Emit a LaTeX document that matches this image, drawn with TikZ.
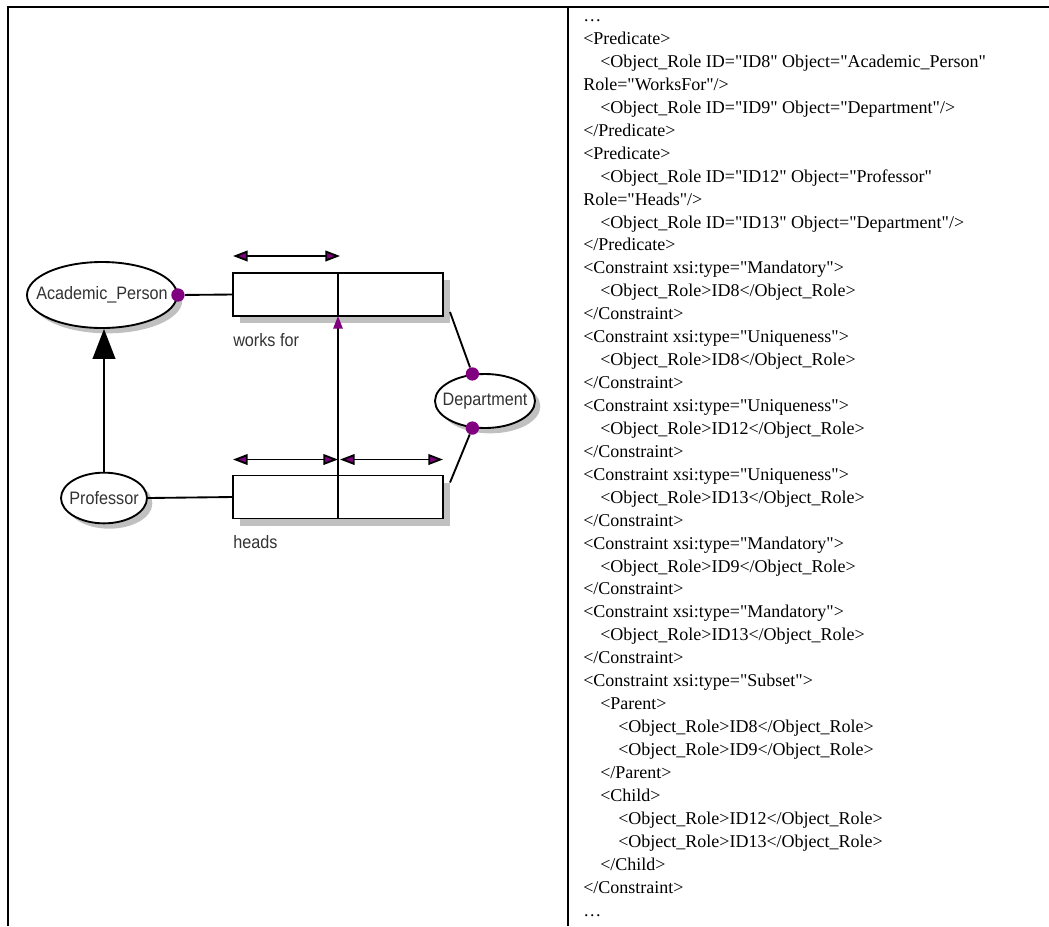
\documentclass[tikz,border=0pt]{standalone}
\usepackage{fontspec}
\setmainfont{Liberation Serif}[Ligatures=TeXOff]
\newfontfamily\ormfont[FakeStretch=0.9]{Liberation Sans}
\usetikzlibrary{arrows.meta,shapes.geometric,shadows,positioning,calc}
\definecolor{ormpurple}{RGB}{128,0,128}
\definecolor{shadowgray}{RGB}{192,192,192}
\tikzset{
  objtype/.style={ellipse,draw,line width=1.4pt,fill=white,inner sep=0pt,
    font=\ormfont\fontsize{13.5pt}{16pt}\selectfont,text=black!80,
    drop shadow={shadow xshift=4pt,shadow yshift=-4pt,fill=shadowgray,opacity=1}},
  rolebox/.style={rectangle,draw,line width=1.4pt,fill=white,inner sep=0pt,outer sep=0pt,
    minimum width=78.75pt,minimum height=32.25pt,
    drop shadow={shadow xshift=5.25pt,shadow yshift=-5.25pt,fill=shadowgray,opacity=1}},
  mand/.style={circle,fill=ormpurple,inner sep=0pt,minimum size=10pt},
  conn/.style={line width=1.4pt},
  uniq/.style={line width=1.4pt,
    {Triangle[fill=ormpurple,length=11pt,width=8pt]}-{Triangle[fill=ormpurple,length=11pt,width=8pt]}},
  lbl/.style={font=\ormfont\fontsize{13.5pt}{16pt}\selectfont,text=black!80,inner sep=0pt},
  frame/.style={line width=1.5pt},
  xmltext/.style={align=left,inner sep=0pt,font=\fontsize{13.5pt}{17.2pt}\selectfont}
}
\begin{document}
\begin{tikzpicture}[x=0.75pt,y=-0.75pt]
  \useasboundingbox (0,0) rectangle (1049,926);
  % table rules
  \draw[frame] (7,7) -- (1049,7);
  \draw[frame] (8,7) -- (8,926);
  \draw[frame] (568,7) -- (568,926);

  % object types
  \node[objtype,minimum width=112.5pt,minimum height=49.5pt] (ap) at (102,295) {\makebox[0pt]{Academic\_Person}};
  \node[objtype,minimum width=64.5pt,minimum height=38pt] (prof) at (104,498) {\makebox[0pt]{Professor}};
  \node[objtype,minimum width=75pt,minimum height=40.5pt] (dept) at (485,401) {\makebox[0pt]{Department}};

  % fact types
  \node[rolebox] (wf1) at (285.5,294.5) {};
  \node[rolebox,right=0pt of wf1] (wf2) {};
  \node[rolebox] (hd1) at (285.5,497) {};
  \node[rolebox,right=0pt of hd1] (hd2) {};
  \node[lbl,anchor=west] (wflbl) at (233,340) {works for};
  \node[lbl,anchor=west] (hdlbl) at (233,542) {heads};

  % mandatory dots
  \node[mand] (apdot) at (ap.east) {};
  \node[mand] (dtop) at (dept.115) {};
  \node[mand] (dbot) at (dept.245) {};
  \coordinate (wfport) at ($(wf2.south east)+(7,-4)$);
  \coordinate (hdport) at ($(hd2.north east)+(7,7)$);

  % role connectors
  \draw[conn] (apdot) -- (wf1.west);
  \draw[conn] (prof.east) -- (hd1.west);
  \draw[conn] (wfport) -- (dtop);
  \draw[conn] (dbot) -- (hdport);

  % subtype
  \draw[conn,-{Triangle[length=22.5pt,width=17pt]}] (prof.north) -- (prof.north |- ap.south);

  % subset
  \draw[conn,-{Triangle[color=ormpurple,length=9.5pt,width=7pt]}] (hd1.north east) -- (wf1.south east);

  % uniqueness
  \draw[uniq] ([yshift=12.75pt]wf1.north west) -- ([yshift=12.75pt,xshift=1.5pt]wf1.north east);
  \draw[uniq] ([yshift=12pt]hd1.north west) -- ([yshift=12pt]hd1.north east);
  \draw[uniq] ([yshift=12pt,xshift=1.5pt]hd1.north east) -- ([yshift=12pt]hd2.north east);

  % xml
  \node[xmltext,anchor=base west] (xml) at (583,916) {%
\ldots\\
<Predicate>\\
\hspace*{12.75pt}<Object\_Role ID="ID8" Object="Academic\_Person"\\
Role="WorksFor"/>\\
\hspace*{12.75pt}<Object\_Role ID="ID9" Object="Department"/>\\
</Predicate>\\
<Predicate>\\
\hspace*{12.75pt}<Object\_Role ID="ID12" Object="Professor"\\
Role="Heads"/>\\
\hspace*{12.75pt}<Object\_Role ID="ID13" Object="Department"/>\\
</Predicate>\\
<Constraint xsi:type="Mandatory">\\
\hspace*{12.75pt}<Object\_Role>ID8</Object\_Role>\\
</Constraint>\\
<Constraint xsi:type="Uniqueness">\\
\hspace*{12.75pt}<Object\_Role>ID8</Object\_Role>\\
</Constraint>\\
<Constraint xsi:type="Uniqueness">\\
\hspace*{12.75pt}<Object\_Role>ID12</Object\_Role>\\
</Constraint>\\
<Constraint xsi:type="Uniqueness">\\
\hspace*{12.75pt}<Object\_Role>ID13</Object\_Role>\\
</Constraint>\\
<Constraint xsi:type="Mandatory">\\
\hspace*{12.75pt}<Object\_Role>ID9</Object\_Role>\\
</Constraint>\\
<Constraint xsi:type="Mandatory">\\
\hspace*{12.75pt}<Object\_Role>ID13</Object\_Role>\\
</Constraint>\\
<Constraint xsi:type="Subset">\\
\hspace*{12.75pt}<Parent>\\
\hspace*{26.25pt}<Object\_Role>ID8</Object\_Role>\\
\hspace*{26.25pt}<Object\_Role>ID9</Object\_Role>\\
\hspace*{12.75pt}</Parent>\\
\hspace*{12.75pt}<Child>\\
\hspace*{26.25pt}<Object\_Role>ID12</Object\_Role>\\
\hspace*{26.25pt}<Object\_Role>ID13</Object\_Role>\\
\hspace*{12.75pt}</Child>\\
</Constraint>\\
\ldots};
\end{tikzpicture}
\end{document}
